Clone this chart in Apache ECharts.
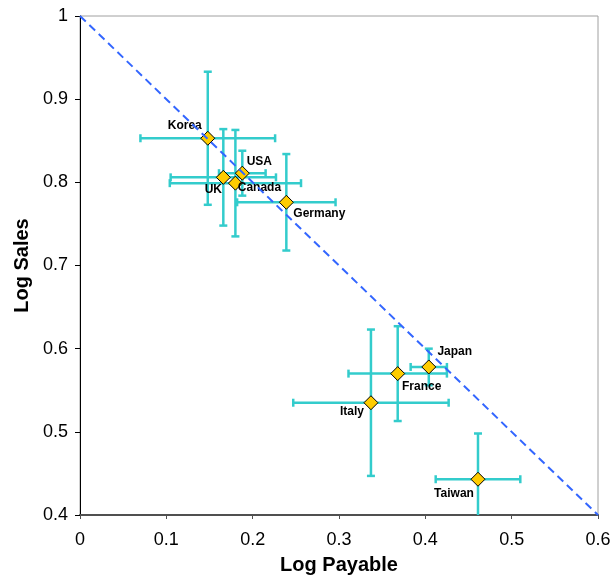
<!DOCTYPE html>
<html><head><meta charset="utf-8">
<script src="https://cdn.jsdelivr.net/npm/echarts@6/dist/echarts.min.js"></script>
<style>html,body{margin:0;padding:0;background:#fff}#c{width:612px;height:576px}</style>
</head><body><div id="c"></div>
<script>
var countries = ['Korea','USA','UK','Canada','Germany','Japan','France','Italy','Taiwan'];
var logPayable = [0.148, 0.188, 0.166, 0.180, 0.239, 0.404, 0.368, 0.337, 0.461];
var logSales   = [0.853, 0.811, 0.806, 0.799, 0.776, 0.578, 0.570, 0.535, 0.443];
var errPayable = [0.078, 0.027, 0.061, 0.076, 0.057, 0.021, 0.057, 0.090, 0.049];
var errSales   = [0.080, 0.027, 0.058, 0.064, 0.058, 0.022, 0.057, 0.088, 0.055];
var trendX = [0, 0.6];
var trendY = [1, 0.4];
var xTicks = [0, 0.1, 0.2, 0.3, 0.4, 0.5, 0.6];
var yTicks = [0.4, 0.5, 0.6, 0.7, 0.8, 0.9, 1];

var labelOffsets = {
  Korea:[-23,-13], USA:[17,-11], UK:[-10,12], Canada:[24,5], Germany:[33,11],
  Japan:[26,-15], France:[24,13], Italy:[-19,9], Taiwan:[-24,14]
};

var points = countries.map(function(n,i){
  return {name:n, value:[logPayable[i], logSales[i]],
    label:{offset:labelOffsets[n]}};
});
var errData = countries.map(function(n,i){
  return [logPayable[i], logSales[i], errPayable[i], errSales[i]];
});

var errColor = '#33CCCC';
function renderErr(params, api){
  var x = api.value(0), y = api.value(1), ex = api.value(2), ey = api.value(3);
  var c = api.coord([x,y]);
  var l = api.coord([x-ex,y]), r = api.coord([x+ex,y]);
  var t = api.coord([x,y+ey]), b = api.coord([x,y-ey]);
  var cap = 4;
  var st = {stroke:errColor, lineWidth:2.5};
  return {type:'group', children:[
    {type:'line', shape:{x1:l[0],y1:c[1],x2:r[0],y2:c[1]}, style:st},
    {type:'line', shape:{x1:l[0],y1:c[1]-cap,x2:l[0],y2:c[1]+cap}, style:st},
    {type:'line', shape:{x1:r[0],y1:c[1]-cap,x2:r[0],y2:c[1]+cap}, style:st},
    {type:'line', shape:{x1:c[0],y1:t[1],x2:c[0],y2:b[1]}, style:st},
    {type:'line', shape:{x1:c[0]-cap,y1:t[1],x2:c[0]+cap,y2:t[1]}, style:st},
    {type:'line', shape:{x1:c[0]-cap,y1:b[1],x2:c[0]+cap,y2:b[1]}, style:st}
  ]};
}

var chart = echarts.init(document.getElementById('c'), null, {renderer:'canvas'});
chart.setOption({
  animation:false,
  backgroundColor:'#fff',
  textStyle:{fontFamily:'Liberation Sans, Arial, sans-serif'},
  grid:{left:80, right:14, top:16, bottom:61, containLabel:false, outerBoundsMode:'none',
        show:true, borderColor:'#a0a0a0', borderWidth:1},
  xAxis:{
    type:'value', min:xTicks[0], max:xTicks[xTicks.length-1], interval:0.1,
    name:'Log Payable', nameLocation:'middle', nameGap:40,
    nameTextStyle:{fontSize:20, fontWeight:'bold', color:'#000'},
    axisLine:{show:true, onZero:false, lineStyle:{color:'#505050', width:2}},
    axisTick:{show:true, length:4, inside:false, lineStyle:{color:'#505050'}},
    axisLabel:{fontSize:18, color:'#000', margin:16},
    splitLine:{show:false}
  },
  yAxis:{
    type:'value', min:yTicks[0], max:yTicks[yTicks.length-1], interval:0.1,
    name:'Log Sales', nameLocation:'middle', nameGap:48,
    nameTextStyle:{fontSize:20, fontWeight:'bold', color:'#000'},
    axisLine:{show:true, onZero:false, lineStyle:{color:'#000', width:1}},
    axisTick:{show:true, length:5, inside:false, lineStyle:{color:'#000'}},
    axisLabel:{fontSize:18, color:'#000', margin:12},
    splitLine:{show:false}
  },
  series:[
    {type:'custom', renderItem:renderErr, data:errData, clip:true, z:2,
     encode:{x:0,y:1}},
    {type:'scatter', data:points, symbol:'diamond', symbolSize:14, z:3,
     itemStyle:{color:'#FFCC00', borderColor:'#000', borderWidth:1, opacity:1},
     label:{show:true, position:'inside', formatter:'{b}', fontSize:12, fontWeight:'bold',
       color:'#000', fontFamily:'Liberation Sans, Arial, sans-serif'},
     emphasis:{disabled:true}},
    {type:'line', data:trendX.map(function(v,i){return [v,trendY[i]];}), symbol:'none', z:4,
     lineStyle:{color:'#3366FF', width:2, type:[8,5]}, silent:true}
  ]
});
</script></body></html>
